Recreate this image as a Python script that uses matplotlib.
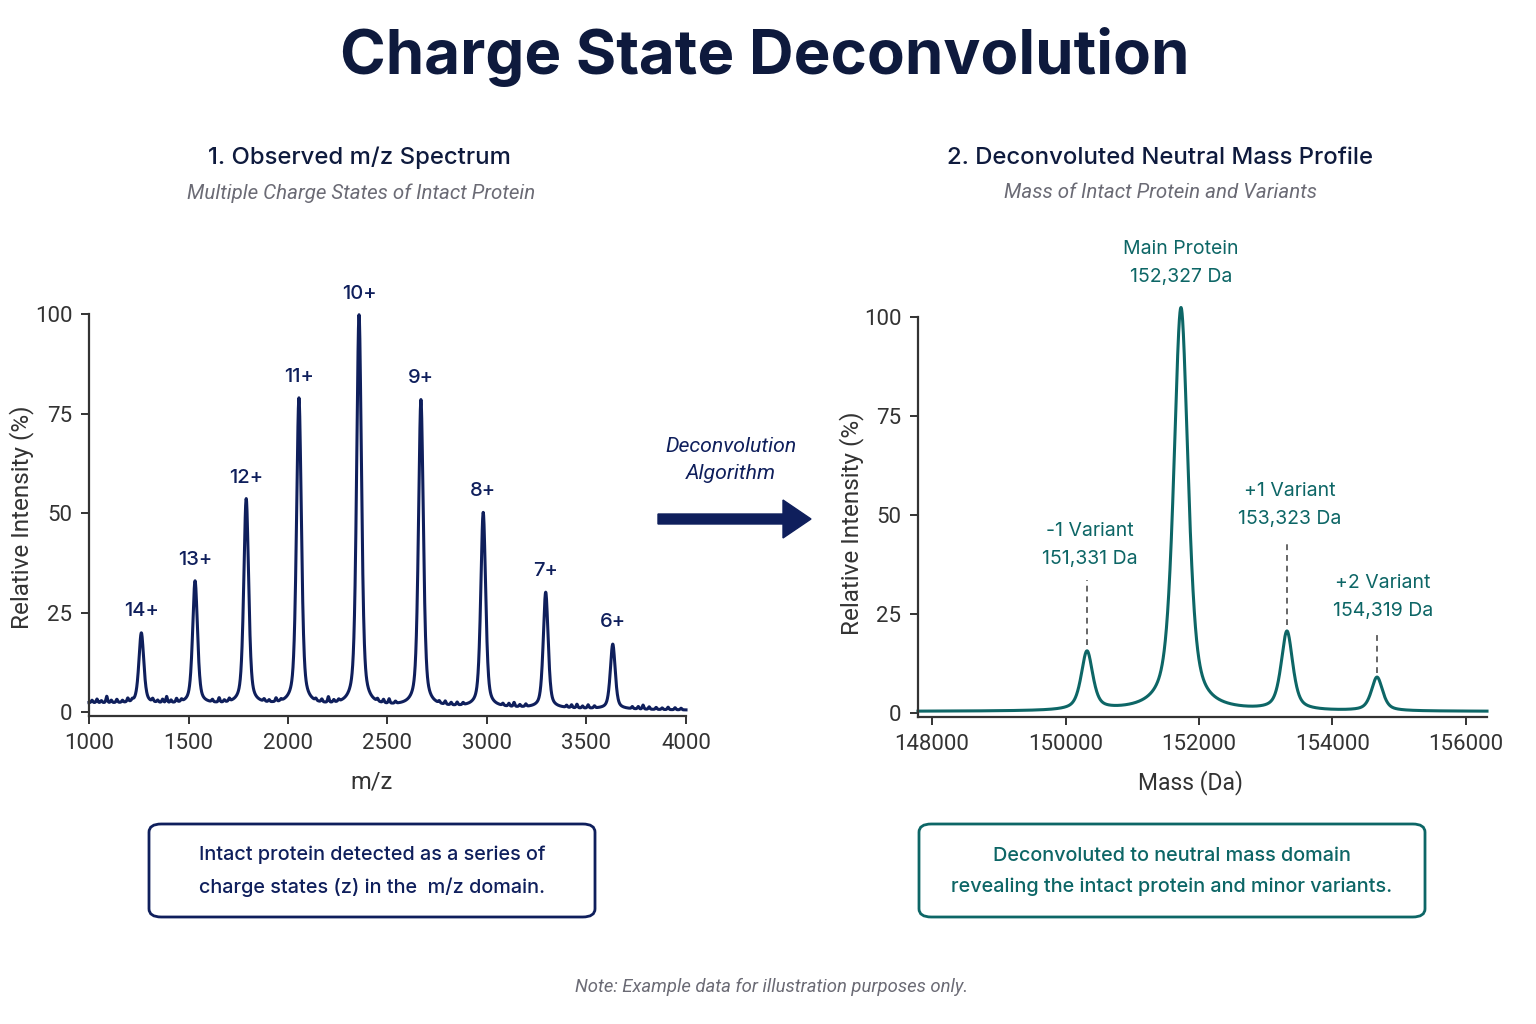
import numpy as np
import matplotlib.pyplot as plt
from matplotlib.patches import FancyBboxPatch, FancyArrow

# ---- data ----
charges = ['14+', '13+', '12+', '11+', '10+', '9+', '8+', '7+', '6+']
mz_peaks = [1263, 1533, 1790, 2055, 2357, 2668, 2981, 3295, 3632]
mz_heights = [19.8, 32.8, 53.4, 78.7, 99.6, 78.3, 50.0, 30.0, 17.0]
mz_fwhm = 29
# small noise bumps on the baseline (position, height)
noise_pos = [1015, 1040, 1062, 1089, 1112, 1140, 1168, 1195, 1218, 1320, 1345, 1370, 1390,
             1412, 1440, 1465, 1620, 1654, 1680, 1705, 1880, 1905, 1940, 1965, 2140, 2170,
             2203, 2230, 2255, 2450, 2480, 2508, 2540, 2760, 2790, 2820, 2850, 2880, 3080,
             3110, 3136, 3165, 3195, 3400, 3425, 3452, 3480, 3508, 3540, 3730, 3760, 3784,
             3815, 3850, 3880, 3910, 3945, 3975]
noise_h = [0.6, 0.9, 0.5, 1.6, 0.6, 0.8, 0.5, 0.9, 0.4, 0.7, 0.5, 0.8, 1.5,
           0.6, 0.9, 0.5, 0.6, 1.1, 0.5, 0.7, 0.6, 0.5, 0.9, 0.4, 0.5, 0.7,
           1.4, 0.6, 0.5, 0.6, 0.8, 1.1, 0.5, 0.5, 0.8, 0.6, 0.7, 0.5, 0.5,
           0.7, 1.0, 0.5, 0.6, 0.5, 0.7, 0.9, 0.5, 0.8, 0.5, 0.5, 0.6, 1.0,
           0.6, 0.5, 0.4, 0.6, 0.5, 0.4]
baseline_start, baseline_end = 2.3, 0.5

variant_names = ['-1 Variant', 'Main Protein', '+1 Variant', '+2 Variant']
variant_mass_labels = ['151,331 Da', '152,327 Da', '153,323 Da', '154,319 Da']
mass_peaks = [150322, 151730, 153318, 154667]
mass_heights = [15.2, 102.3, 20.3, 8.9]
mass_fwhm = [205, 255, 205, 200]
mass_baseline = 0.4
# label block centre (y, data units) and dashed guide (top, bottom)
label_y = [42.4, 113.6, 52.5, 29.3]
label_dx = [40, 0, 40, 90]
guide_top = [33.6, None, 43.2, 20.2]
guide_bot = [17.2, None, 22.2, 10.1]

NAVY = '#0f1f5c'
TEAL = '#0d6666'
DARK = '#0e1a3d'
GRAY = '#333333'
SUB = '#6b6b75'

W, H = 1536, 1024
fig = plt.figure(figsize=(W / 100, H / 100), dpi=100)
fig.patch.set_facecolor('white')


def fx(px):
    return px / W


def fy(py):
    return 1 - py / H


def pvoigt(x, c, h, fwhm, eta=0.55):
    g = fwhm / 2
    lor = g**2 / ((x - c)**2 + g**2)
    gau = np.exp(-np.log(2) * ((x - c) / g)**2)
    return h * (eta * lor + (1 - eta) * gau)


def style_axes(ax):
    for s in ['top', 'right']:
        ax.spines[s].set_visible(False)
    for s in ['left', 'bottom']:
        ax.spines[s].set_color(GRAY)
        ax.spines[s].set_linewidth(1.6)
    ax.tick_params(axis='both', direction='out', length=6, width=1.4, color=GRAY,
                   labelsize=16, labelcolor=GRAY, pad=6)
    for lab in ax.get_xticklabels() + ax.get_yticklabels():
        lab.set_fontfamily('Roboto')
    ax.set_yticks([0, 25, 50, 75, 100])


# ---- left: m/z spectrum ----
ax1 = fig.add_axes([fx(89), fy(716), fx(686) - fx(89), fy(314) - fy(716)])
x = np.linspace(1000, 4000, 3001)
base = baseline_start + (baseline_end - baseline_start) * (x - 1000) / 3000
y = base.copy()
for c, h in zip(mz_peaks, mz_heights):
    b = baseline_start + (baseline_end - baseline_start) * (c - 1000) / 3000
    y = y + pvoigt(x, c, h - b, mz_fwhm, eta=0.5)
for c, h in zip(noise_pos, noise_h):
    y = y + pvoigt(x, c, h, 9, eta=0.2)
ax1.plot(x, y, color=NAVY, lw=2.2, clip_on=False)
for c, h, lab in zip(mz_peaks, mz_heights, charges):
    ax1.text(c, h + 5.5, lab, ha='center', va='center', color=NAVY,
             fontsize=14.5, family='Inter', weight='medium')
ax1.set_xlim(1000, 4000)
ax1.set_ylim(-1, 100)
ax1.set_xticks([1000, 1500, 2000, 2500, 3000, 3500, 4000])
style_axes(ax1)

# ---- right: deconvoluted mass ----
ax2 = fig.add_axes([fx(918), fy(717), fx(1487) - fx(918), fy(317) - fy(717)])
m = np.linspace(147790, 156315, 4000)
s = np.full_like(m, mass_baseline)
for c, h, w in zip(mass_peaks, mass_heights, mass_fwhm):
    s = s + pvoigt(m, c, h - mass_baseline, w, eta=0.6)
ax2.plot(m, s, color=TEAL, lw=2.2, clip_on=False)
for c, name, ml, ly, dx, gt, gb in zip(mass_peaks, variant_names, variant_mass_labels,
                                       label_y, label_dx, guide_top, guide_bot):
    ax2.text(c + dx, ly, name + '\n' + ml, ha='center', va='center', color=TEAL,
             fontsize=14, family='Inter', linespacing=1.75, clip_on=False)
    if gt is not None:
        ax2.plot([c, c], [gb, gt], ls=(0, (3, 2.5)), color='#666666', lw=1.4)
ax2.set_xlim(147790, 156315)
ax2.set_ylim(-1, 100)
ax2.set_xticks([148000, 150000, 152000, 154000, 156000])
style_axes(ax2)

# ---- texts ----
fig.text(fx(765), fy(57), 'Charge State Deconvolution', ha='center', va='center',
         fontsize=44.5, family='Inter', weight='bold', color=DARK)
fig.text(fx(359), fy(158), '1. Observed m/z Spectrum', ha='center', va='center',
         fontsize=17.2, family='Inter', weight='medium', color=DARK)
fig.text(fx(361), fy(193), 'Multiple Charge States of Intact Protein', ha='center',
         va='center', fontsize=14.8, family='Roboto', style='italic', color=SUB)
fig.text(fx(1160), fy(158), '2. Deconvoluted Neutral Mass Profile', ha='center',
         va='center', fontsize=17.2, family='Inter', weight='medium', color=DARK)
fig.text(fx(1160), fy(193), 'Mass of Intact Protein and Variants', ha='center',
         va='center', fontsize=14.8, family='Roboto', style='italic', color=SUB)

fig.text(fx(22), fy(517), 'Relative Intensity (%)', rotation=90, ha='center',
         va='center', fontsize=17.5, family='Roboto', color=GRAY)
fig.text(fx(852), fy(523), 'Relative Intensity (%)', rotation=90, ha='center',
         va='center', fontsize=17.5, family='Roboto', color=GRAY)
fig.text(fx(371), fy(782), 'm/z', ha='center', va='center', fontsize=17,
         family='Roboto', color=GRAY)
fig.text(fx(1190), fy(783), 'Mass (Da)', ha='center', va='center', fontsize=16.5,
         family='Roboto', color=GRAY)

fig.text(fx(731), fy(460), 'Deconvolution\nAlgorithm', ha='center', va='center',
         fontsize=15.3, family='Roboto', style='italic', color=NAVY, linespacing=1.5)
fig.patches.append(FancyArrow(fx(658), fy(519), fx(811) - fx(658) - fx(28), 0,
                              width=10 / H, head_width=38 / H, head_length=fx(28),
                              length_includes_head=False, color=NAVY,
                              transform=fig.transFigure, figure=fig))

for (x0, x1, col, txt) in [(149, 595, NAVY,
                            'Intact protein detected as a series of\ncharge states (z) in the  m/z domain.'),
                           (919, 1425, TEAL,
                            'Deconvoluted to neutral mass domain\nrevealing the intact protein and minor variants.')]:
    box = FancyBboxPatch((fx(x0), fy(917)), fx(x1) - fx(x0), fy(824) - fy(917),
                         boxstyle='round,pad=0,rounding_size=0.008',
                         transform=fig.transFigure, facecolor='white',
                         edgecolor=col, lw=2)
    fig.patches.append(box)
    fig.text(fx((x0 + x1) / 2), fy(871.5), txt, ha='center', va='center', fontsize=14.3,
             family='Inter', weight='medium', color=col, linespacing=1.85)

fig.text(fx(772), fy(987), 'Note: Example data for illustration purposes only.',
         ha='center', va='center', fontsize=13.3, family='Roboto', style='italic',
         color=SUB)

fig.savefig('out.png', dpi=100, facecolor='white')
